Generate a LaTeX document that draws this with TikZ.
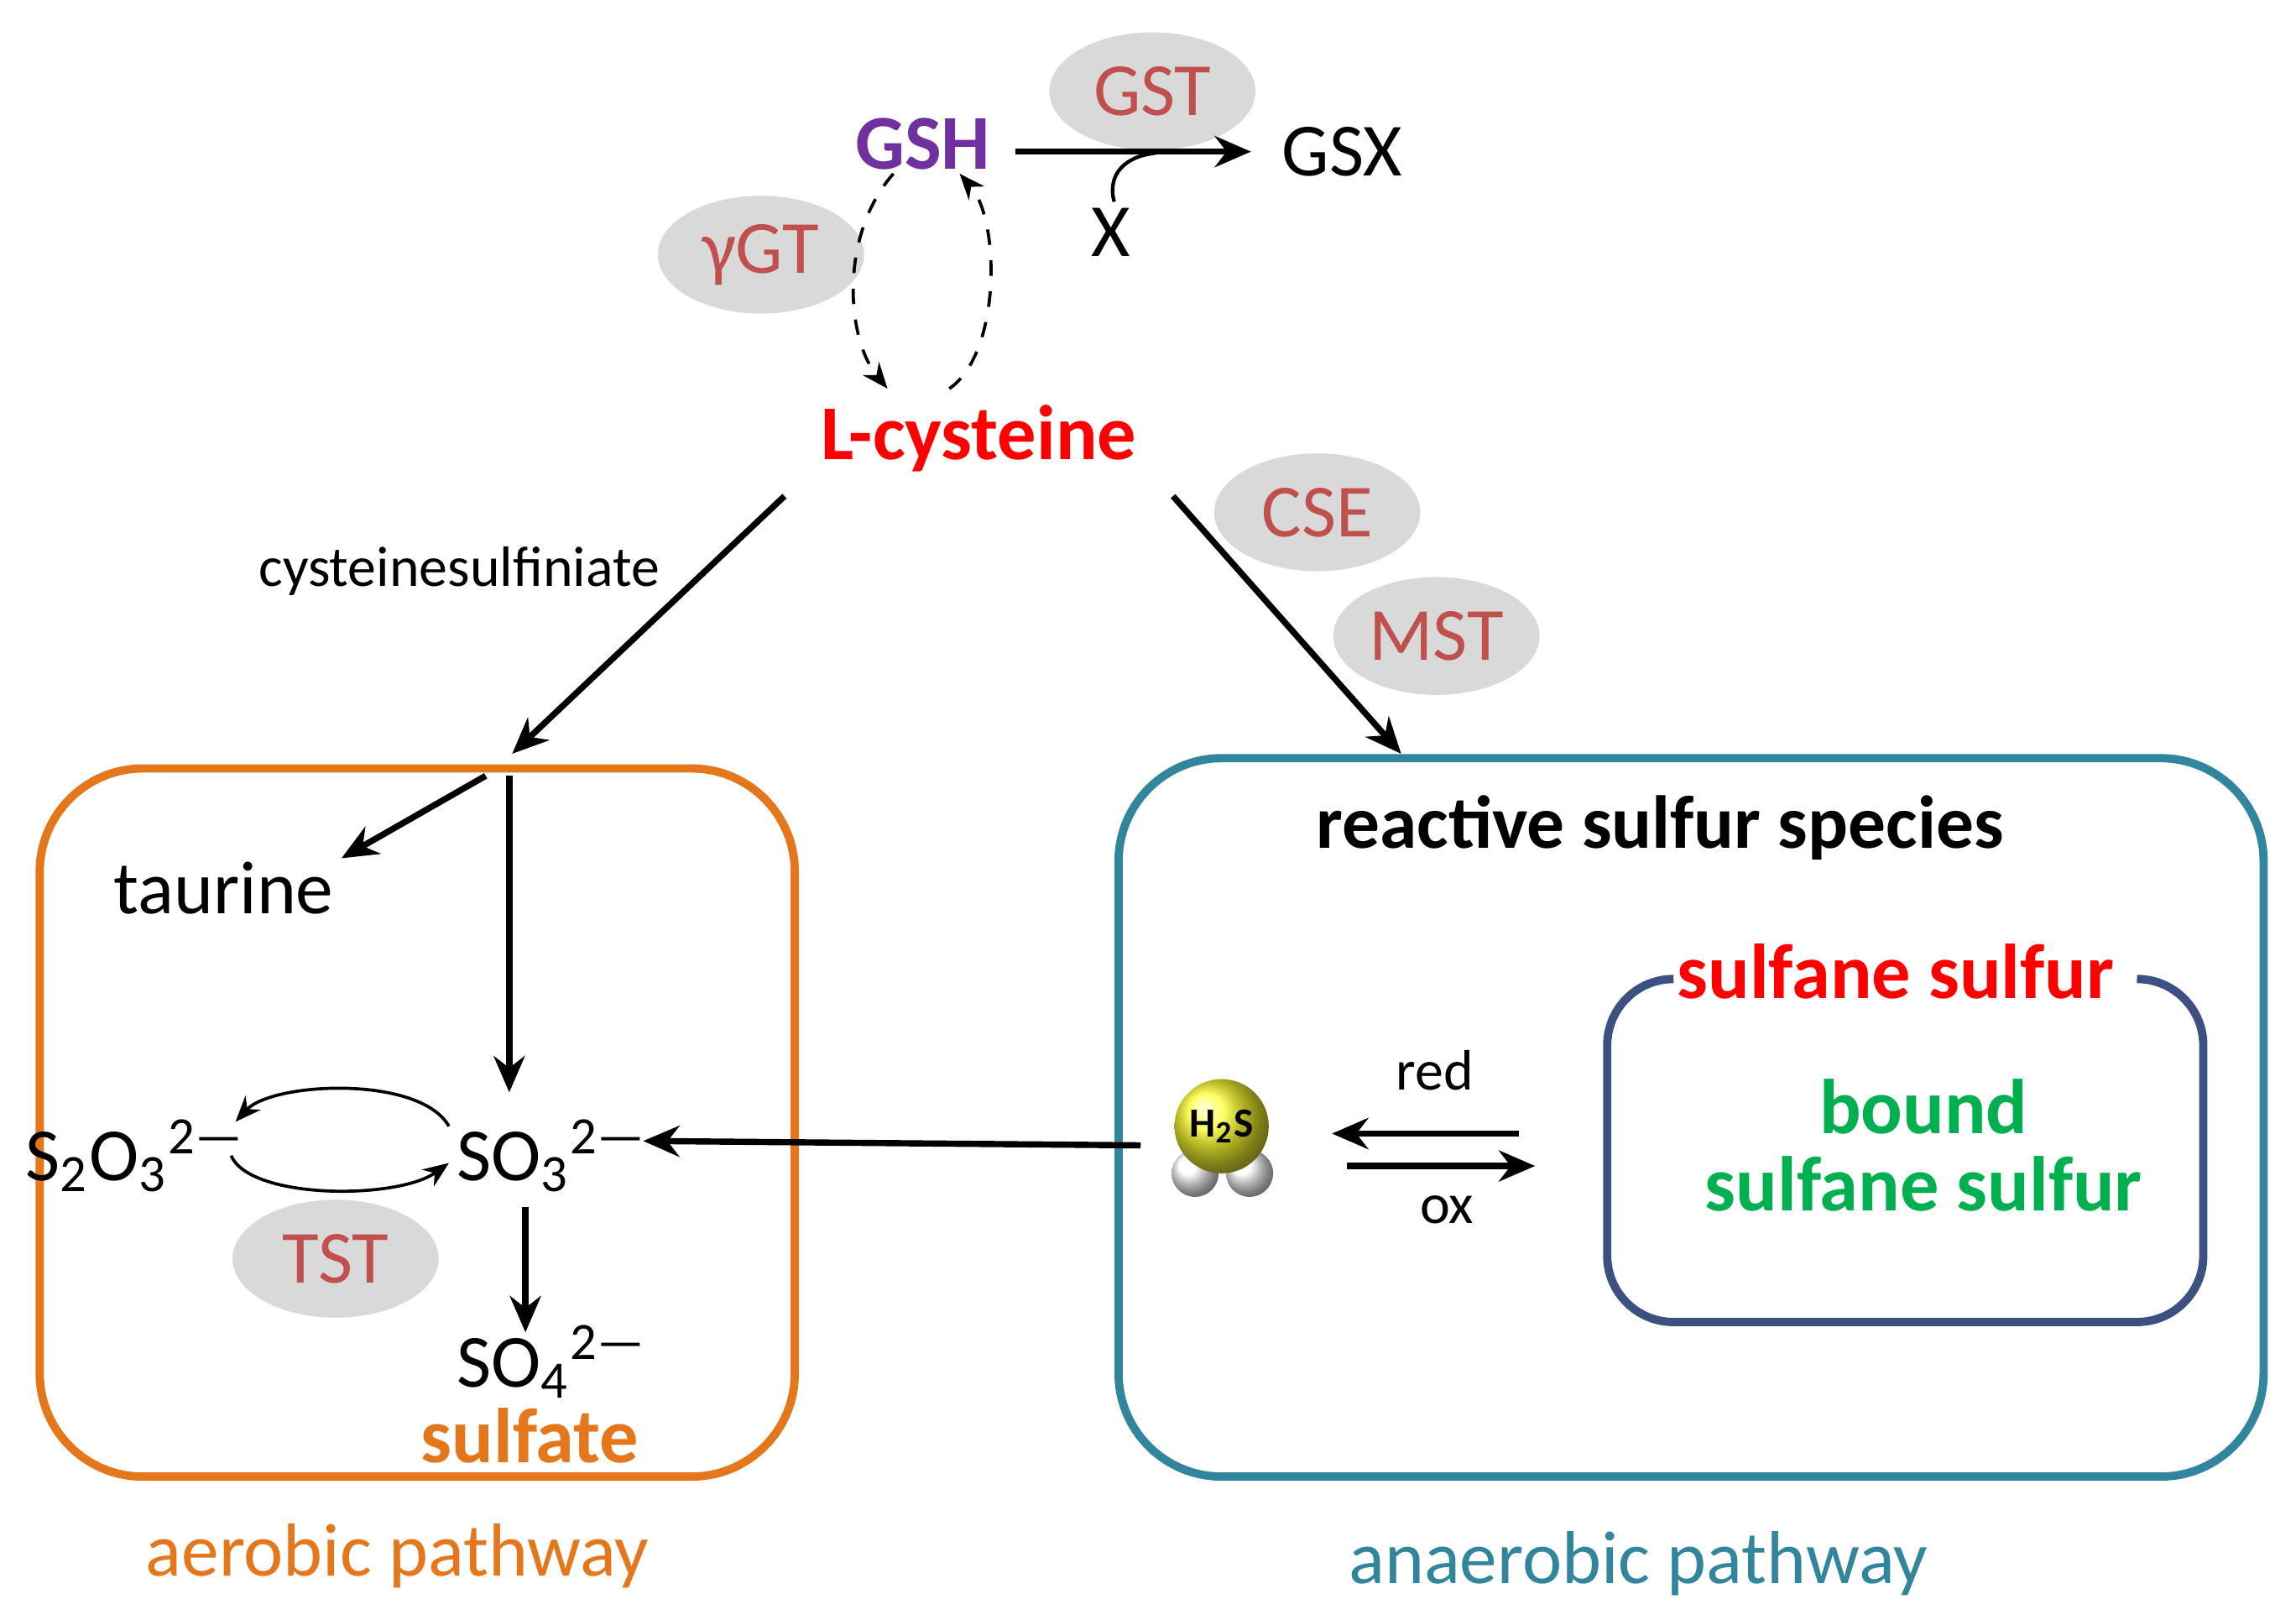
\documentclass[tikz,border=0pt]{standalone}
\usepackage{fontspec}
\setmainfont{Carlito}
\usetikzlibrary{arrows.meta,shapes.geometric}
\definecolor{enz}{RGB}{192,80,77}
\definecolor{egray}{RGB}{217,217,217}
\definecolor{orng}{RGB}{228,118,28}
\definecolor{teal}{RGB}{49,133,156}
\definecolor{navy}{RGB}{60,80,130}
\definecolor{grn}{RGB}{0,176,80}
\definecolor{purp}{RGB}{112,48,160}
\begin{document}
\begin{tikzpicture}[x=0.01cm,y=-0.01cm,
 enzyme/.style={ellipse,fill=egray,minimum width=1.4cm,minimum height=0.8cm,inner sep=0,text=enz,font=\fontsize{14.5}{17}\selectfont},
 lbl/.style={font=\fontsize{14.5}{17}\selectfont},
 bl/.style={font=\fontsize{15}{17}\selectfont\bfseries},
 arr/.style={line width=1.2pt,-{Stealth[length=7pt,width=6pt]}},
 thin arr/.style={line width=0.6pt,-{Stealth[length=5pt,width=4pt]}}]
\useasboundingbox (0,0) rectangle (1560,1097);
% enzymes
\node[enzyme] (gst) at (783,62) {GST};
\node[enzyme] (ggt) at (517,173) {γGT};
\node[enzyme] (cse) at (895,348) {CSE};
\node[enzyme] (mst) at (976,432) {MST};
\node[enzyme] (tst) at (228,855) {TST};
% top
\node[bl,text=purp] (gsh) at (627,98) {GSH};
\node[lbl] (gsx) at (912,103) {GSX};
\node[lbl] (x) at (755,158) {X};
\coordinate (a1) at (690,103);
\coordinate (a2) at (850,103);
\draw[arr] (a1) -- (a2);
\coordinate (xa) at (757,137);
\coordinate (xb) at (785,104);
\draw[line width=0.7pt] (xa) .. controls (752,118) and (765,106) .. (xb);
\node[bl,text=red] (cys) at (665,298) {L-cysteine};
\coordinate (d1) at (607,118); \coordinate (d2) at (603,264);
\coordinate (d3) at (645,264); \coordinate (d4) at (652,118);
\draw[thin arr,dashed] (d1) .. controls (570,160) and (575,230) .. (d2);
\draw[thin arr,dashed] (d3) .. controls (680,240) and (680,150) .. (d4);
% arrows from cysteine
\coordinate (c1) at (533,337); \coordinate (c2) at (348,512);
\draw[arr] (c1) -- (c2);
\node[font=\fontsize{11}{14}\selectfont] (csa) at (312,388) {cysteinesulfiniate};
\coordinate (c3) at (797,337); \coordinate (c4) at (952,512);
\draw[arr] (c3) -- (c4);
% orange box
\draw[orng,line width=1.6pt,rounded corners=0.7cm] (27,522) rectangle (540,1003);
\node[lbl] (taur) at (152,603) {taurine};
\coordinate (t0) at (330,527); \coordinate (t1) at (232,583);
\draw[arr] (t0) -- (t1);
\coordinate (v0) at (346,527); \coordinate (v1) at (346,742);
\draw[arr] (v0) -- (v1);
\node[lbl] (s2o3) at (92,785) {S\textsubscript{2}O\textsubscript{3}\textsuperscript{2—}};
\node[lbl] (so3) at (375,785) {SO\textsubscript{3}\textsuperscript{2—}};
\coordinate (p1) at (305,765); \coordinate (p2) at (160,762);
\draw[thin arr] (p1) .. controls (285,730) and (185,735) .. (p2);
\coordinate (p3) at (157,785); \coordinate (p4) at (305,790);
\draw[thin arr] (p3) .. controls (170,815) and (270,815) .. (p4);
\coordinate (w0) at (357,820); \coordinate (w1) at (357,905);
\draw[arr] (w0) -- (w1);
\node[lbl] (so4) at (375,925) {SO\textsubscript{4}\textsuperscript{2—}};
\node[bl,text=orng] (sulf) at (360,975) {sulfate};
\node[lbl,text=orng] (aer) at (270,1057) {aerobic pathway};
% teal box
\draw[teal,line width=1.6pt,rounded corners=0.7cm] (760,515) rectangle (1538,1003);
\node[font=\fontsize{14.5}{17}\selectfont\bfseries] (rss) at (1128,562) {reactive sulfur species};
\draw[navy,line width=1.6pt,rounded corners=0.45cm] (1135,665) -- (1092,665) -- (1092,898) -- (1497,898) -- (1497,665) -- (1455,665);
\node[bl,text=red] (ss) at (1288,660) {sulfane sulfur};
\node[bl,text=grn,align=center] (bss) at (1307,778) {bound\\[-2pt] sulfane sulfur};
\node[lbl,text=teal] (ana) at (1113,1062) {anaerobic pathway};
% H2S
\shade[ball color=white] (812,797) circle (16);
\shade[ball color=white] (849,797) circle (16);
\node[circle,minimum size=0.64cm,inner sep=0,ball color=yellow!80!white,font=\fontsize{8}{9}\selectfont\bfseries] (h2s) at (830,765) {H\textsubscript{2}S};
\coordinate (h0) at (775,778); \coordinate (h1) at (437,775);
\draw[arr] (h0) -- (h1);
\coordinate (r0) at (1032,770); \coordinate (r1) at (905,770);
\draw[arr] (r0) -- (r1);
\coordinate (o0) at (915,792); \coordinate (o1) at (1043,792);
\draw[arr] (o0) -- (o1);
\node[font=\fontsize{11}{13}\selectfont] (red) at (975,727) {red};
\node[font=\fontsize{11}{13}\selectfont] (ox) at (983,822) {ox};
\end{tikzpicture}
\end{document}
